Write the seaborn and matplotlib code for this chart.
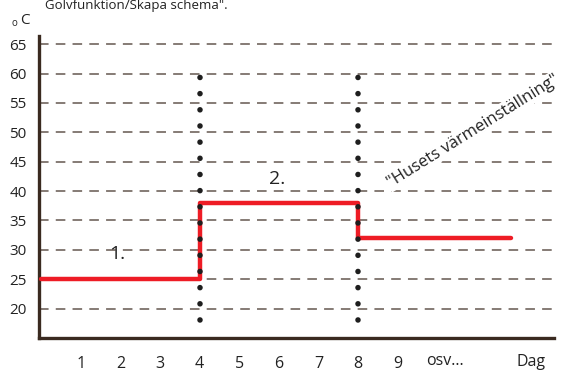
import numpy as np
import pandas as pd
import matplotlib
matplotlib.use("Agg")
import matplotlib.pyplot as plt
import seaborn as sns

# step profile for the floor heating schedule
days = [0, 4, 8, 11.85]
temps = [25, 38, 32, 32]

y_ticks = [15, 20, 25, 30, 35, 40, 45, 50, 55, 60, 65]
y_labels = ["", "20", "25", "30", "35", "40", "45", "50", "55", "60", "65"]
x_ticks = list(range(0, 13))
x_labels = ["", "1", "2", "3", "4", "5", "6", "7", "8", "9", "", "", ""]

# day boundaries marked with dotted lines
marks = [4, 8]
mark_span = [18, 60]

sns.set_style("white")
plt.rcParams['font.family'] = ['Open Sans', 'DejaVu Sans']

fig = plt.figure(figsize=(5.61, 3.72), dpi=100)
ax = fig.add_axes([0.0697, 0.0914, 0.918, 0.812])

spine_col = '#3a2a20'
grid_col = '#6a5e56'
txt_col = '#222222'

# dashed horizontal guides
for v in y_ticks[1:]:
    ax.axhline(v, color=grid_col, lw=1.15, linestyle=(0, (6, 4.5)), zorder=1)

df = pd.DataFrame({'day': days, 'temp': temps})
sns.lineplot(data=df, x='day', y='temp', drawstyle='steps-post',
             color='#ee1c25', lw=3.2, ax=ax, zorder=3)

for m in marks:
    ax.plot([m, m], mark_span, color='#1e1e1e', lw=4,
            linestyle=(0, (0.01, 2.9)), dash_capstyle='round', zorder=4)

ax.set_xlim(-0.05, 12.95)
ax.set_ylim(15, 66.4)
ax.set_xticks(x_ticks)
ax.set_xticklabels(x_labels)
ax.set_yticks(y_ticks)
ax.set_yticklabels(y_labels)
ax.set_xlabel("")
ax.set_ylabel("")

for s in ['top', 'right']:
    ax.spines[s].set_visible(False)
for s in ['left', 'bottom']:
    ax.spines[s].set_color(spine_col)
    ax.spines[s].set_linewidth(2.4)
ax.tick_params(axis='both', direction='out', length=4, width=1.2,
               color=spine_col, labelcolor=txt_col)
ax.tick_params(axis='y', labelsize=11, pad=5)
ax.tick_params(axis='x', labelsize=11.5, pad=9)

ax.text(1.93, 29.3, "1.", fontsize=14, color=txt_col, ha='center', va='center', zorder=5)
ax.text(5.95, 42.0, "2.", fontsize=14, color=txt_col, ha='center', va='center', zorder=5)
ax.text(10.9, 50.2, '"Husets värmeinställning"', fontsize=12, color=txt_col,
        rotation=32, ha='center', va='center', rotation_mode='anchor', zorder=5,
        bbox=dict(facecolor='white', edgecolor='none', pad=1))

fig.text(445 / 561, 1 - 361 / 372, "osv...", fontsize=11.5, color=txt_col,
         ha='center', va='center')
fig.text(531 / 561, 1 - 362 / 372, "Dag", fontsize=11.5, color=txt_col,
         ha='center', va='center')

fig.text(45 / 561, 1 - 9 / 372, 'Golvfunktion/Skapa schema".', fontsize=9.5,
         color=txt_col, ha='left', va='baseline')
fig.text(14.5 / 561, 1 - 24 / 372, "o", fontsize=7, color=txt_col,
         ha='center', va='center')
fig.text(25 / 561, 1 - 21 / 372, "C", fontsize=11, color=txt_col,
         ha='center', va='center')

fig.savefig("out.png", dpi=100)
